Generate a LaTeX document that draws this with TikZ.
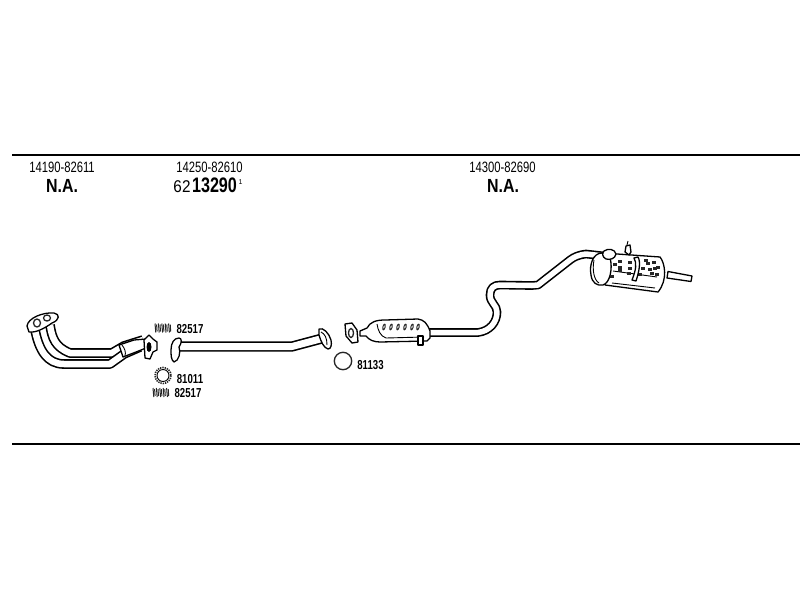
\documentclass[tikz,border=0pt]{standalone}
\usepackage{fontspec}
\setmainfont{Liberation Sans}
\newcommand{\narrow}[2]{\scalebox{#1}[1]{#2}}
\tikzset{
  rule/.style={line width=1.5pt,black},
  pipe/.style={draw=black,line width=1.6pt,double=white,double distance=#1,line join=round},
  pipe/.default=6pt,
  part/.style={draw=black,line width=1.3pt,fill=white,line join=round},
  fine/.style={draw=black,line width=.9pt},
  txt/.style={inner sep=0pt,anchor=center,text=black},
  num/.style={txt,font=\fontsize{15pt}{16pt}\selectfont},
  small/.style={txt,font=\fontsize{13pt}{14pt}\selectfont\bfseries},
  big/.style={txt,font=\fontsize{19pt}{20pt}\selectfont\bfseries},
  ringa/.style={draw=black!85,line width=1.3pt,fill=white},
}
\newcommand{\spring}[2]{%
  \foreach \k in {0,3.4,6.8,10.2,13.6}{
    \draw[line width=1pt,black!85] (#1+\k,#2-4.5) -- (#1+\k+.8,#2+4.5);
    \draw[line width=1pt,black!85] (#1+\k+1.6,#2-3.5) -- (#1+\k+2.1,#2+3.5);
  }}
\begin{document}
\begin{tikzpicture}[x=1pt,y=-1pt]
\useasboundingbox (0,0) rectangle (800,600);
\fill[white] (0,0) rectangle (800,600);
% rules
\coordinate (ta) at (12,155); \coordinate (tb) at (800,155);
\coordinate (ba) at (12,444); \coordinate (bb) at (800,444);
\draw[rule] (ta) -- (tb);
\draw[rule] (ba) -- (bb);
% header texts
\node[num] (h1) at (62,167.5) {\narrow{.75}{14190-82611}};
\node[big] (n1) at (62,185.5) {\narrow{.84}{N.A.}};
\node[num] (h2) at (209.5,167.5) {\narrow{.75}{14250-82610}};
\node[txt,font=\fontsize{17pt}{18pt}\selectfont] (p1) at (182,186.5) {\narrow{.9}{62}};
\node[txt,font=\fontsize{21pt}{22pt}\selectfont\bfseries] (p2) at (214.5,185.5) {\narrow{.77}{13290}};
\node[txt,font=\fontsize{7pt}{8pt}\selectfont] (p3) at (240.5,182) {1};
\node[num] (h3) at (502.5,167.5) {\narrow{.75}{14300-82690}};
\node[big] (n2) at (503,185.5) {\narrow{.84}{N.A.}};
% front pipe
\draw[pipe=6.5pt] (50,325) .. controls (52,338) and (55,347) .. (70,353) -- (112,353) -- (124,346) -- (143,340);
\draw[pipe=6.5pt] (35,330) .. controls (39,350) and (47,364) .. (64,364) -- (110,364) -- (124,354) -- (140,347);
\draw[part] (119,345) -- (134,340) -- (146,339) -- (146,348) -- (136,352) -- (123,357) -- cycle;
\draw[fine] (122,345) .. controls (125,349) and (126,352) .. (125,356);
% inlet flange
\draw[part] (27,326) .. controls (28,318) and (43,312) .. (54,313) .. controls (60,314) and (60,320) .. (52,323) .. controls (45,328) and (36,333) .. (29,332) -- cycle;
\draw[ringa] (37,323) ellipse (3.5 and 4);
\draw[ringa] (47,318) ellipse (3.5 and 3);
% flange 2
\draw[part] (144,340) -- (149,335) -- (153,339) -- (157,342) -- (157,350) -- (153,352) -- (150,359) -- (145,358) -- cycle;
\fill[black] (149,347) ellipse (2.5 and 5);
% middle pipe
\draw[pipe=7pt] (178,346.5) -- (292,346.5) -- (322,338.5);
\draw[part] (171,350) .. controls (171,343) and (174,338) .. (179,338) .. controls (182,338) and (182,343) .. (179,347) .. controls (181,352) and (179,361) .. (174,362) .. controls (171,360) and (171,355) .. (171,350) -- cycle;
\draw[part] (319,329) .. controls (323,327) and (329,333) .. (331,340) .. controls (332,345) and (331,349) .. (328,349) .. controls (324,348) and (321,342) .. (319,335) -- cycle;
\draw[fine] (321,332) .. controls (325,334) and (327,338) .. (327,345);
% ring and spring labels
\spring{155}{328}
\node[small] (l1) at (190,329) {\narrow{.74}{82517}};
\draw[ringa,densely dotted,line width=1.6pt] (163,375.5) circle (8);
\draw[fine] (163,375.5) circle (6);
\node[small] (l2) at (190,379.5) {\narrow{.74}{81011}};
\spring{153}{392.5}
\node[small] (l3) at (188,393) {\narrow{.74}{82517}};
\draw[ringa] (343,361) circle (8.7);
\node[small] (l4) at (370.5,365.5) {\narrow{.74}{81133}};
% rear pipe
\draw[pipe=5.5pt] (425,332.5) -- (478,332.5) .. controls (490,331) and (497,322) .. (497,312) .. controls (497,305) and (490,303) .. (490,295) .. controls (490,288) and (494,285) .. (500,285) -- (532,285.5) -- (538,285) -- (570,260) .. controls (574,257) and (578,255) .. (586,254) -- (604,256);
% catalyst
\draw[part] (360,331) -- (367,328) .. controls (370,322) and (376,320) .. (385,320) -- (418,319) .. controls (424,320) and (427,323) .. (430,331) -- (430,338) -- (427,341) -- (380,342) .. controls (374,342) and (369,340) .. (366,336) -- (360,336) -- cycle;
\draw[fine] (377,324) .. controls (378,330) and (380,336) .. (386,338) -- (424,337);
\foreach \q in {384,391,398,405,412,418}{
  \fill[black!85,rotate around={-15:(\q,327)}] (\q,327) ellipse (1.6 and 3.6);
  \fill[white,rotate around={-15:(\q,327)}] (\q,327) ellipse (.6 and 1.8);
}
\draw[part] (418,336) rectangle (423,345);
% catalyst flange
\draw[part] (345,324) -- (352,323) -- (357,330) -- (358,342) -- (352,343) -- (346,336) -- cycle;
\draw[ringa] (351,333) ellipse (2.5 and 4.5);
% muffler
\draw[part] (603,253) -- (660,257) .. controls (665,263) and (668,280) .. (658,292) -- (605,285) -- cycle;
\draw[part] (692,276) -- (668,271.5) -- (667,278) -- (691,281.5) -- cycle;
\draw[part] (602,253) .. controls (593,253) and (589,265) .. (591,275) .. controls (592,283) and (597,286) .. (603,285) .. controls (610,283) and (613,268) .. (610,258) .. controls (608,255) and (605,253) .. (602,253) -- cycle;
\draw[fine] (594,260) .. controls (592,270) and (594,280) .. (599,283);
\draw[fine] (612,283) -- (655,288);
\draw[fine] (613,271) -- (657,277);
\foreach \px/\py in {620/261, 630/262, 620/267, 630/268, 620/270, 629/273, 648/263, 654/262, 650/269, 655/268, 652/273, 657/274, 615/264, 643/268, 612/276, 640/274, 646/260, 658/267}{
  \fill[black!85] (\px-1.7,\py-1.5) rectangle (\px+1.7,\py+1.5);
}
\draw[part] (638,257) .. controls (641,262) and (639,272) .. (636,281) -- (632,280) .. controls (636,270) and (637,263) .. (634,258) -- cycle;
\draw[part] (604,251) .. controls (608,248) and (615,249) .. (616,254) .. controls (615,259) and (610,260) .. (606,259) .. controls (602,257) and (602,253) .. (604,251) -- cycle;
\draw[part] (625,252) -- (626,246) -- (630,245) -- (631,252) -- (629,255) -- cycle;
\draw[fine] (627,245) -- (628,241);
\end{tikzpicture}
\end{document}
